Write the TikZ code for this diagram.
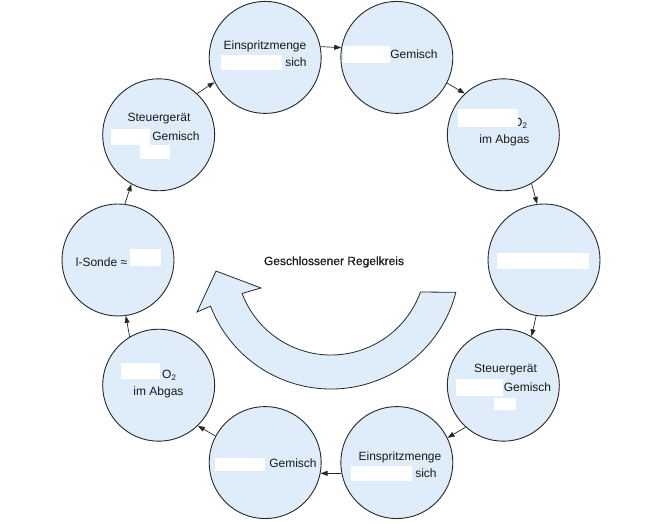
\documentclass[tikz,border=0pt]{standalone}
\usepackage{fontspec}
\setmainfont{Liberation Sans}
\newfontfamily\titlefont[FakeBold=0.4]{Liberation Sans}
\usetikzlibrary{arrows.meta,calc}
\definecolor{cfill}{RGB}{222,237,249}
\definecolor{cline}{RGB}{40,40,40}
\definecolor{ctext}{RGB}{25,25,25}
\begin{document}
\begin{tikzpicture}[x=1pt,y=1pt,
  ring/.style={circle,draw=cline,fill=cfill,line width=0.9pt,minimum size=112pt,inner sep=0pt},
  lbl/.style={text=ctext,font=\fontsize{12}{14}\selectfont,inner sep=0pt},
  flow/.style={draw=cline,line width=0.7pt,-{Triangle[length=7pt,width=5pt]}},
  blank/.style={fill=white}]
\useasboundingbox (0,0) rectangle (654,524);
\coordinate (O) at (331,264);
\foreach \n/\a in {1/108,2/72,3/36,4/0,5/-36,6/-72,7/-108,8/-144,9/180,10/144}
  \node[ring] (c\n) at ($(O)+(\a:213)$) {};

% connectors
\draw[flow] (c1.11) -- (c2.170);
\draw[flow] (c2.-27) -- (c3.133);
\draw[flow] (c3.-60) -- (c4.97);
\draw[flow] (c4.-98) -- (c5.60);
\draw[flow] (c5.-132) -- (c6.26);
\draw[flow] (c6.-169) -- (c7.-11);
\draw[flow] (c7.152) -- (c8.-46);
\draw[flow] (c8.121) -- (c9.-82);
\draw[flow] (c9.83) -- (c10.-119);
\draw[flow] (c10.47) -- (c1.-154);

% big curved arrow
\coordinate (K) at (331,264);
\draw[draw=cline,fill=cfill,line width=0.8pt,line join=miter]
  ($(K)+(-14.5:129)$) arc[start angle=-14.5, end angle=-159, radius=129]
  -- ($(K)+(201.2:143.7)$) -- ($(K)+(185.5:115.5)$) -- ($(K)+(201.8:75.4)$)
  -- ($(K)+(-159.4:95)$) arc[start angle=-159.4, end angle=-19.7, radius=95] -- cycle;
\node[lbl,font=\titlefont\fontsize{12}{14}\selectfont] (title) at (334,262) {Geschlossener Regelkreis};

% c1
\node[lbl] (t1a) at (265,478) {Einspritzmenge};
\fill[blank] (221,454) rectangle (282,469);
\node[lbl] (t1b) at (296,462) {sich};
% c2
\fill[blank] (343,461) rectangle (390,478);
\node[lbl] (t2a) at (414,470) {Gemisch};
% c3
\node[lbl,anchor=west] (t3a) at (513,401) {O\textsubscript{2}};
\fill[blank] (458,397) rectangle (518,415);
\node[lbl] (t3b) at (504.5,384) {im Abgas};
% c4
\fill[blank] (497,255) rectangle (589,271);
% c5
\node[lbl] (t5a) at (505.5,154) {Steuergerät};
\fill[blank] (456,128) rectangle (503,145);
\node[lbl] (t5b) at (527.5,137) {Gemisch};
\fill[blank] (494,114) rectangle (516,126);
% c6
\node[lbl] (t6a) at (400,67) {Einspritzmenge};
\fill[blank] (351,43) rectangle (412,58);
\node[lbl] (t6b) at (426,51) {sich};
% c7
\fill[blank] (215,53) rectangle (265,66);
\node[lbl] (t7a) at (293,61) {Gemisch};
% c8
\fill[blank] (121,145) rectangle (160,161);
\node[lbl,anchor=west] (t8a) at (162,149) {O\textsubscript{2}};
\node[lbl] (t8b) at (158.5,132) {im Abgas};
% c9
\node[lbl] (t9a) at (101.5,262) {l-Sonde ≈};
\fill[blank] (130,258) rectangle (161,275);
% c10
\node[lbl] (t10a) at (159,405) {Steuergerät};
\fill[blank] (111,379) rectangle (150,395);
\node[lbl] (t10b) at (176,388) {Gemisch};
\fill[blank] (140,365) rectangle (170,379);
\end{tikzpicture}
\end{document}
